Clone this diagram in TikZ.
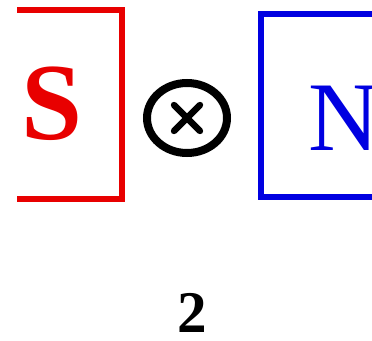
\documentclass[tikz,border=0pt]{standalone}
\usepackage{fontspec}
\setmainfont{Liberation Serif}
\usetikzlibrary{positioning,calc}
\definecolor{bred}{RGB}{232,0,0}
\definecolor{bblue}{RGB}{0,0,225}
\tikzset{
  redbrk/.style={draw=bred, line width=0.16cm},
  bluebrk/.style={draw=bblue, line width=0.15cm},
  lbl/.style={inner sep=0pt, font=\bfseries\fontsize{78}{80}\selectfont},
  prod/.style={draw=black, line width=0.2cm},
  crossln/.style={black, line width=0.16cm, line cap=round},
}
\begin{document}
\begin{tikzpicture}[x=0.025cm, y=-0.025cm]
  \useasboundingbox (0,0) rectangle (372,340);
  % left bracket
  \draw[redbrk] (17,10) -- (122,10) -- (122,199) -- (17,199);
  \node[lbl, text=bred] (s) at (52,104) {S};
  % right bracket
  \draw[bluebrk] (380,14.5) -- (261,14.5) -- (261,197) -- (380,197);
  \node[inner sep=0pt, text=bblue, font=\fontsize{70}{72}\selectfont, anchor=west] (n) at (308,118) {N};
  % product sign
  \draw[prod] (187,118) ellipse [x radius=40, y radius=35];
  \coordinate (c) at (187,118);
  \draw[crossln] ($(c)+(-13,-13)$) -- ($(c)+(13,13)$);
  \draw[crossln] ($(c)+(13,-13)$) -- ($(c)+(-13,13)$);
  \node[inner sep=0pt, font=\bfseries\fontsize{42}{44}\selectfont] (idx) at (192,313) {2};
\end{tikzpicture}
\end{document}
